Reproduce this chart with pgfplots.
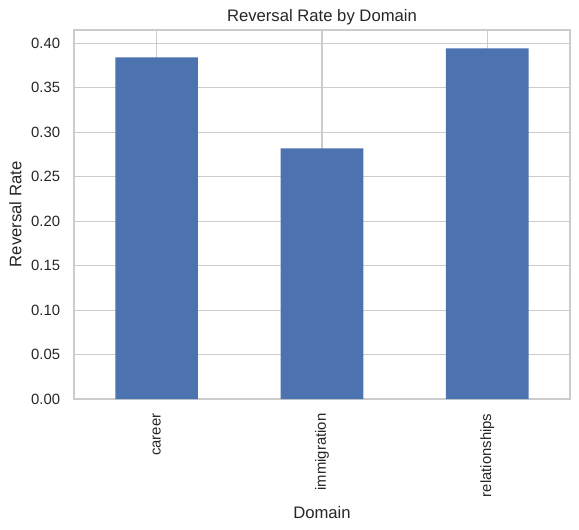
\documentclass[border=0pt]{standalone}
\usepackage{pgfplots}
\pgfplotsset{compat=1.18}
\usepackage{fontspec}
\setmainfont{Liberation Sans}
\definecolor{barblue}{HTML}{4C72B0}
\definecolor{gridgray}{HTML}{CCCCCC}
\definecolor{txt}{HTML}{262626}
\begin{document}
\begin{tikzpicture}[x=0.72pt,y=0.72pt]
% page frame, in pixels of the reference, origin at the lower left of the axis
\path (-74,-130) rectangle (505,399);
\begin{axis}[
    at={(0,0)}, anchor=south west,
    width=357.1pt, height=265.7pt,
    scale only axis,
    ybar, bar width=0.5, bar shift=0pt,
    xmin=-0.5, xmax=2.5,
    ymin=0, ymax=0.415,
    xtick={0,1,2},
    xticklabels={career,immigration,relationships},
    xticklabel style={rotate=90, anchor=east, font=\fontsize{10.7}{13}\selectfont, text=txt},
    xticklabel shift=7pt,
    ytick={0,0.05,...,0.40},
    yticklabel style={font=\fontsize{10.7}{13}\selectfont, text=txt,
        /pgf/number format/.cd, fixed, fixed zerofill, precision=2},
    yticklabel shift=6.5pt,
    /pgf/number format/assume math mode=true,
    major tick length=0pt,
    grid=major,
    grid style={gridgray, line width=0.8pt},
    axis line style={gridgray, line width=0.9pt},
    axis on top=false,
    title={Reversal Rate by Domain},
    title style={font=\fontsize{12}{14}\selectfont, text=txt, yshift=-6pt},
    xlabel={Domain},
    ylabel={Reversal Rate},
    xlabel shift=0pt,
    ylabel shift=0pt,
    label style={font=\fontsize{12}{14}\selectfont, text=txt},
]
\addplot[fill=barblue, draw=none] coordinates {(0,0.3843) (1,0.2819) (2,0.3944)};
\end{axis}
\end{tikzpicture}
\end{document}
